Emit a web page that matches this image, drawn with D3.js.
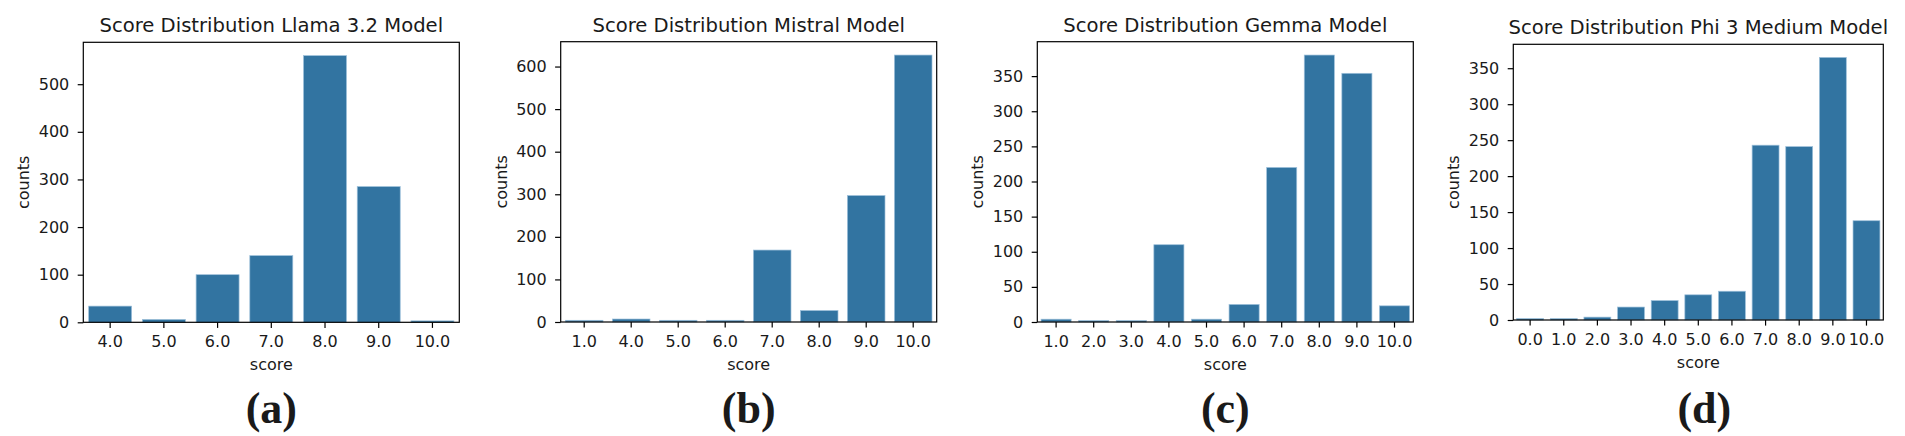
<!DOCTYPE html>
<html>
<head>
<meta charset="utf-8">
<script src="https://cdn.jsdelivr.net/npm/d3@7"></script>
<style>
  body { margin: 0; background: #fff; }
  text { font-family: "DejaVu Sans", sans-serif; fill: #1a1a1a; }
  .tick text { font-size: 16px; }
  .axis_label { font-size: 16px; }
  .title { font-size: 19.6px; }
  .sublabel { font-family: "Liberation Serif", serif; font-weight: bold; font-size: 44px; }
</style>
</head>
<body>
<div id="vis1"></div>
<script>
// data
var llamaScores = ["4.0", "5.0", "6.0", "7.0", "8.0", "9.0", "10.0"];
var llamaCounts = [34, 6, 100, 140, 560, 285, 3];
var llamaTicks = [0, 100, 200, 300, 400, 500];

var mistralScores = ["1.0", "4.0", "5.0", "6.0", "7.0", "8.0", "9.0", "10.0"];
var mistralCounts = [4, 7, 4, 4, 169, 27, 297, 627];
var mistralTicks = [0, 100, 200, 300, 400, 500, 600];

var gemmaScores = ["1.0", "2.0", "3.0", "4.0", "5.0", "6.0", "7.0", "8.0", "9.0", "10.0"];
var gemmaCounts = [4, 2, 2, 110, 4, 25, 220, 380, 354, 23];
var gemmaTicks = [0, 50, 100, 150, 200, 250, 300, 350];

var phiScores = ["0.0", "1.0", "2.0", "3.0", "4.0", "5.0", "6.0", "7.0", "8.0", "9.0", "10.0"];
var phiCounts = [2, 2, 4, 18, 27, 35, 40, 243, 241, 365, 138];
var phiTicks = [0, 50, 100, 150, 200, 250, 300, 350];

var titles = ["Score Distribution Llama 3.2 Model", "Score Distribution Mistral Model",
              "Score Distribution Gemma Model", "Score Distribution Phi 3 Medium Model"];
var subLabels = ["(a)", "(b)", "(c)", "(d)"];

var width = 1905, height = 436;

var svg = d3.select("#vis1").append("svg")
    .attr("width", width)
    .attr("height", height);

svg.append("rect").attr("width", width).attr("height", height).attr("fill", "#fff");

// axes boxes in pixels: left, top, right, bottom (+ nudge for the sub label)
var boxes = [
    {x0: 83.3, y0: 42.3, x1: 459.3, y1: 322.3, lab: 0},
    {x0: 560.7, y0: 41.7, x1: 936.7, y1: 322, lab: 0},
    {x0: 1037.3, y0: 41.7, x1: 1413.3, y1: 322, lab: 0},
    {x0: 1513.3, y0: 44.3, x1: 1883.3, y1: 320, lab: 6}
];

drawPanel(0, llamaScores, llamaCounts, llamaTicks);
drawPanel(1, mistralScores, mistralCounts, mistralTicks);
drawPanel(2, gemmaScores, gemmaCounts, gemmaTicks);
drawPanel(3, phiScores, phiCounts, phiTicks);

function drawPanel(i, scores, counts, ticks){
    var b = boxes[i];
    var w = b.x1 - b.x0, h = b.y1 - b.y0;

    var g = svg.append("g")
        .attr("transform", "translate(" + b.x0 + "," + b.y0 + ")");

    var xScale = d3.scaleBand()
        .domain(scores)
        .range([0, w])
        .paddingInner(0.2)
        .paddingOuter(0.1);

    // matplotlib style 5% head room
    var yScale = d3.scaleLinear()
        .domain([0, d3.max(counts) * 1.05])
        .range([h, 0]);

    var rows = scores.map(function(s, k){ return {score: s, count: counts[k]}; });

    g.selectAll(".bar")
        .data(rows)
        .enter().append("rect")
        .attr("class", "bar")
        .attr("x", function(d){ return xScale(d.score); })
        .attr("width", xScale.bandwidth())
        .attr("y", function(d){ return yScale(d.count); })
        .attr("height", function(d){ return h - yScale(d.count); })
        .attr("fill", "#3274a1")
        .attr("stroke", "#9dc0db")
        .attr("stroke-width", 0.7);

    var xAxis = g.append("g")
        .attr("transform", "translate(0," + h + ")")
        .call(d3.axisBottom(xScale).tickSize(5.6).tickPadding(8));
    xAxis.select(".domain").remove();

    var yAxis = g.append("g")
        .call(d3.axisLeft(yScale).tickValues(ticks).tickSize(5.6).tickPadding(8.4)
              .tickFormat(d3.format("d")));
    yAxis.select(".domain").remove();

    g.selectAll(".tick line").attr("stroke", "#000").attr("stroke-width", 1.2);

    // frame
    g.append("rect")
        .attr("width", w)
        .attr("height", h)
        .attr("fill", "none")
        .attr("stroke", "#000")
        .attr("stroke-width", 1.2);

    g.append("text")
        .attr("class", "title")
        .attr("x", w / 2)
        .attr("y", -10)
        .attr("text-anchor", "middle")
        .text(titles[i]);

    g.append("text")
        .attr("class", "axis_label")
        .attr("x", w / 2)
        .attr("y", h + 48)
        .attr("text-anchor", "middle")
        .text("score");

    g.append("text")
        .attr("class", "axis_label")
        .attr("transform", "translate(-54," + (h / 2) + ") rotate(-90)")
        .attr("text-anchor", "middle")
        .text("counts");

    svg.append("text")
        .attr("class", "sublabel")
        .attr("x", (b.x0 + b.x1) / 2 + b.lab)
        .attr("y", 423)
        .attr("text-anchor", "middle")
        .text(subLabels[i]);
}
</script>
</body>
</html>
